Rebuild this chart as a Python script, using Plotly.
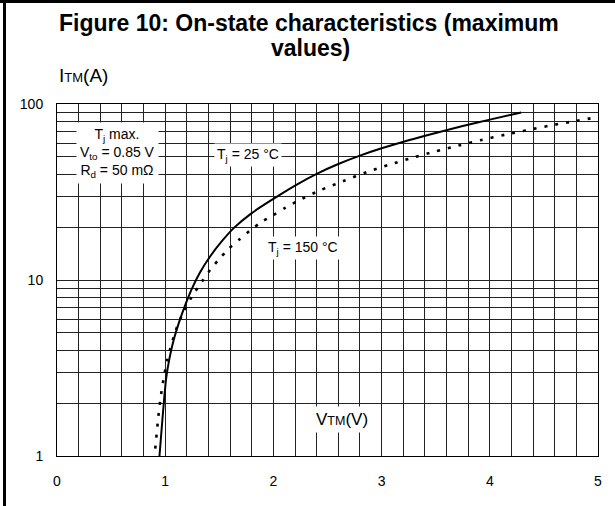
import plotly.graph_objects as go

# ---- data ----
v_25 = [0.947, 0.97, 0.99, 1.01, 1.04, 1.08, 1.13, 1.185, 1.246, 1.32, 1.415, 1.52,
        1.64, 1.8, 2.0, 2.2, 2.4, 2.6, 2.8, 3.0, 3.25, 3.5, 3.75, 4.0, 4.29]
i_25 = [1.0, 1.5, 2.1, 2.8, 3.6, 4.6, 5.8, 7.2, 8.9, 11.0, 13.6, 16.5,
        19.9, 24.0, 28.9, 34.4, 40.1, 45.6, 50.9, 56.0, 62.3, 68.5, 74.9, 81.5, 89.5]

v_150 = [0.908, 0.938, 0.963, 0.991, 1.021, 1.092, 1.169, 1.246, 1.339, 1.415, 1.492,
         1.585, 1.686, 1.785, 1.893, 2.0, 2.108, 2.215, 2.43, 2.647, 2.862, 3.07,
         3.287, 3.49, 3.708, 3.924, 4.14, 4.35, 4.555, 4.77, 4.98]
i_150 = [1.10, 1.70, 2.26, 2.88, 3.55, 5.05, 6.60, 8.03, 9.78, 11.4, 13.0,
         15.0, 17.0, 19.1, 21.4, 23.4, 25.7, 27.9, 32.3, 36.5, 41.0, 45.2,
         49.5, 53.6, 58.0, 62.5, 66.9, 71.1, 75.4, 79.6, 83.9]

x_tick_vals = [0, 1, 2, 3, 4, 5]
x_tick_text = ["0", "1", "2", "3", "4", "5"]
y_tick_vals = [1, 10, 100]
y_tick_text = ["1", "10", "100"]
x_minor_grid = [0.2, 0.4, 0.6, 0.8, 1.2, 1.4, 1.6, 1.8, 2.2, 2.4, 2.6, 2.8,
                3.2, 3.4, 3.6, 3.8, 4.2, 4.4, 4.6, 4.8]
y_minor_grid = [2, 3, 4, 5, 6, 7, 8, 9, 20, 30, 40, 50, 60, 70, 80, 90]

title_line1 = "<b>Figure 10: On-state characteristics (maximum</b>"
title_line2 = "<b>values)</b>"

# ---- layout geometry (pixels) ----
W, H = 615, 506
L, R, T, B = 57, 17, 104, 50
PW, PH = W - L - R, H - T - B


def px(xp):
    return (xp - L) / PW


def py(yp):
    return (H - B - yp) / PH


FONT = "Liberation Sans, Arial, sans-serif"

fig = go.Figure()
fig.add_trace(go.Scatter(
    x=v_25, y=i_25, mode="lines",
    line=dict(color="black", width=2, shape="spline", smoothing=0.8),
    showlegend=False, hoverinfo="skip"))
fig.add_trace(go.Scatter(
    x=v_150, y=i_150, mode="lines",
    line=dict(color="black", width=2.6, dash="3px,8px", shape="spline", smoothing=0.8),
    showlegend=False, hoverinfo="skip"))

grid_col = "#222222"
fig.update_xaxes(
    range=[0, 5], tickmode="array", tickvals=x_tick_vals, ticktext=x_tick_text,
    showgrid=True, gridcolor=grid_col, gridwidth=1, zeroline=False,
    showline=True, linecolor="black", linewidth=1, mirror=True,
    ticks="", ticklabelstandoff=12,
    tickfont=dict(family=FONT, size=14, color="black"),
    minor=dict(tickmode="array", tickvals=x_minor_grid, showgrid=True,
               gridcolor=grid_col, gridwidth=1, ticks=""),
)
fig.update_yaxes(
    type="log", range=[0, 2], tickmode="array", tickvals=y_tick_vals, ticktext=y_tick_text,
    showgrid=True, gridcolor=grid_col, gridwidth=1, zeroline=False,
    showline=True, linecolor="black", linewidth=1, mirror=True,
    ticks="", ticklabelstandoff=10,
    tickfont=dict(family=FONT, size=14, color="black"),
    minor=dict(tickmode="array", tickvals=y_minor_grid, showgrid=True,
               gridcolor=grid_col, gridwidth=1, ticks=""),
)

ann = []
ann.append(dict(text=title_line1, xref="paper", yref="paper", x=px(309), y=py(23),
                xanchor="center", yanchor="middle", showarrow=False,
                font=dict(family=FONT, size=23, color="black")))
ann.append(dict(text=title_line2, xref="paper", yref="paper", x=px(310), y=py(48),
                xanchor="center", yanchor="middle", showarrow=False,
                font=dict(family=FONT, size=23, color="black")))
ann.append(dict(text="I<span style='font-size:13px'>TM</span>(A)", xref="paper", yref="paper",
                x=px(57), y=py(75), xanchor="left", yanchor="middle", showarrow=False,
                font=dict(family=FONT, size=19, color="black")))
ann.append(dict(text="T<sub>j</sub> max.<br>V<sub>to</sub> = 0.85 V<br>R<sub>d</sub> = 50 mΩ",
                xref="paper", yref="paper", x=px(117.5), y=py(153), xanchor="center",
                yanchor="middle", showarrow=False, align="center", bgcolor="white",
                borderpad=3, font=dict(family=FONT, size=14, color="black")))
ann.append(dict(text="T<sub>j</sub> = 25 °C", xref="paper", yref="paper",
                x=px(247.5), y=py(155), xanchor="center", yanchor="middle",
                showarrow=False, bgcolor="white", borderpad=2,
                font=dict(family=FONT, size=14, color="black")))
ann.append(dict(text="T<sub>j</sub> = 150 °C", xref="paper", yref="paper",
                x=px(303), y=py(248), xanchor="center", yanchor="middle",
                showarrow=False, bgcolor="white", borderpad=2,
                font=dict(family=FONT, size=14, color="black")))
ann.append(dict(text="V<span style='font-size:12.5px'>TM</span>(V)", xref="paper", yref="paper",
                x=px(341.5), y=py(419), xanchor="center", yanchor="middle",
                showarrow=False, bgcolor="white", borderpad=3,
                font=dict(family=FONT, size=17, color="black")))

shapes = [
    dict(type="line", xref="paper", yref="paper", x0=px(4.5), x1=px(4.5), y0=py(0), y1=py(H),
         line=dict(color="black", width=3)),
    dict(type="line", xref="paper", yref="paper", x0=px(0), x1=px(W), y0=py(1.5), y1=py(1.5),
         line=dict(color="black", width=3)),
]

fig.update_layout(
    width=W, height=H, margin=dict(l=L, r=R, t=T, b=B, autoexpand=False),
    paper_bgcolor="white", plot_bgcolor="white",
    annotations=ann, shapes=shapes,
)

fig.write_html("out.html", config={"displayModeBar": False},
               post_script="document.body.style.margin='0';document.body.style.padding='0';")
